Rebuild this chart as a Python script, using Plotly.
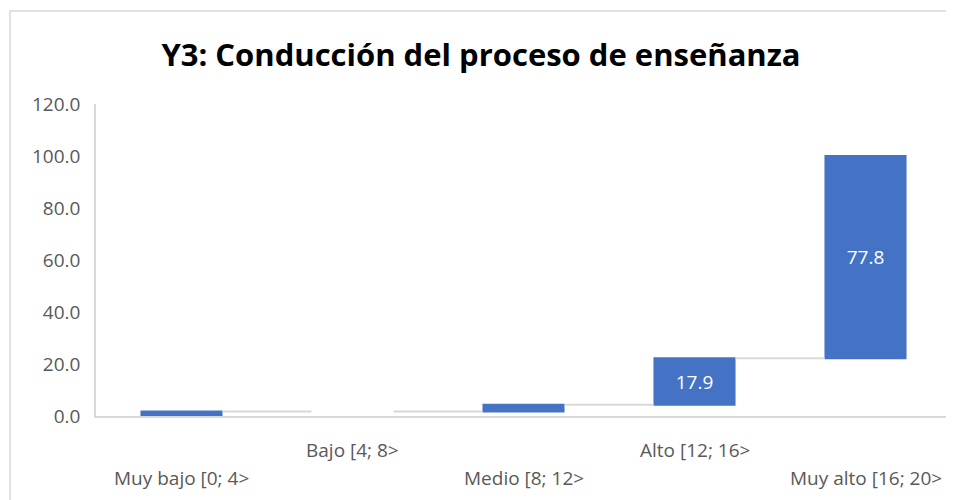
import plotly.graph_objects as go

categories = ["Muy bajo [0; 4>", "Bajo [4; 8>", "Medio [8; 12>", "Alto [12; 16>", "Muy alto [16; 20>"]
values = [1.7, 0.0, 2.6, 17.9, 77.8]
y_ticks = [0, 20, 40, 60, 80, 100, 120]
title_text = "Y3: Conducción del proceso de enseñanza"

labels = [f"{v:.1f}" if v >= 5 else "" for v in values]

# page body has an 8px margin, so the figure is laid out 8px smaller / shifted
W, H = 946, 492
L, R, T, B = 88, 3, 96, 84

fig = go.Figure(go.Waterfall(
    x=categories,
    y=values,
    measure=["relative"] * len(values),
    text=labels,
    textposition="inside",
    insidetextanchor="middle",
    textfont=dict(color="white", size=19, family="Open Sans"),
    increasing=dict(marker=dict(color="#4472C4", line=dict(color="#4472C4", width=0))),
    decreasing=dict(marker=dict(color="#4472C4")),
    connector=dict(line=dict(color="#D9D9D9", width=2), mode="between"),
    width=0.48,
    hoverinfo="x+y",
))

# staggered category labels
for i, c in enumerate(categories):
    fig.add_annotation(
        x=c, y=0, xref="x", yref="y",
        text=c, showarrow=False,
        yshift=-34 if i % 2 == 1 else -62,
        font=dict(family="Open Sans", size=19, color="#595959"),
    )

fig.update_layout(
    width=W, height=H,
    margin=dict(l=L, r=R, t=T, b=B, autoexpand=False),
    paper_bgcolor="white", plot_bgcolor="white",
    showlegend=False,
    title=dict(text=f"<b>{title_text}</b>", x=0.5, xanchor="center",
               y=1 - 47 / H, yanchor="middle",
               font=dict(family="Open Sans", size=31, color="black")),
    font=dict(family="Open Sans"),
)
fig.update_xaxes(showticklabels=False, showline=True, linecolor="#D9D9D9", linewidth=1.5,
                 ticks="", showgrid=False, zeroline=False, automargin=False)
fig.update_yaxes(range=[0, 120], tickvals=y_ticks, ticktext=[f"{v:.1f}" for v in y_ticks],
                 tickfont=dict(family="Open Sans", size=19, color="#595959"),
                 showline=True, linecolor="#D9D9D9", linewidth=1.5, automargin=False,
                 showgrid=False, zeroline=False, ticks="", ticklabelstandoff=10)

# chart frame (screen x=10, y=11 -> figure x=2, y=3)
pw = W - L - R
ph = H - T - B
fig.add_shape(type="rect", xref="paper", yref="paper",
              x0=(2 - L) / pw, x1=(W + 10 - L) / pw,
              y0=-(B + 20) / ph, y1=(H - B - 3) / ph,
              line=dict(color="#D9D9D9", width=1.5), fillcolor="rgba(0,0,0,0)", layer="below")

fig.write_html("out.html")
